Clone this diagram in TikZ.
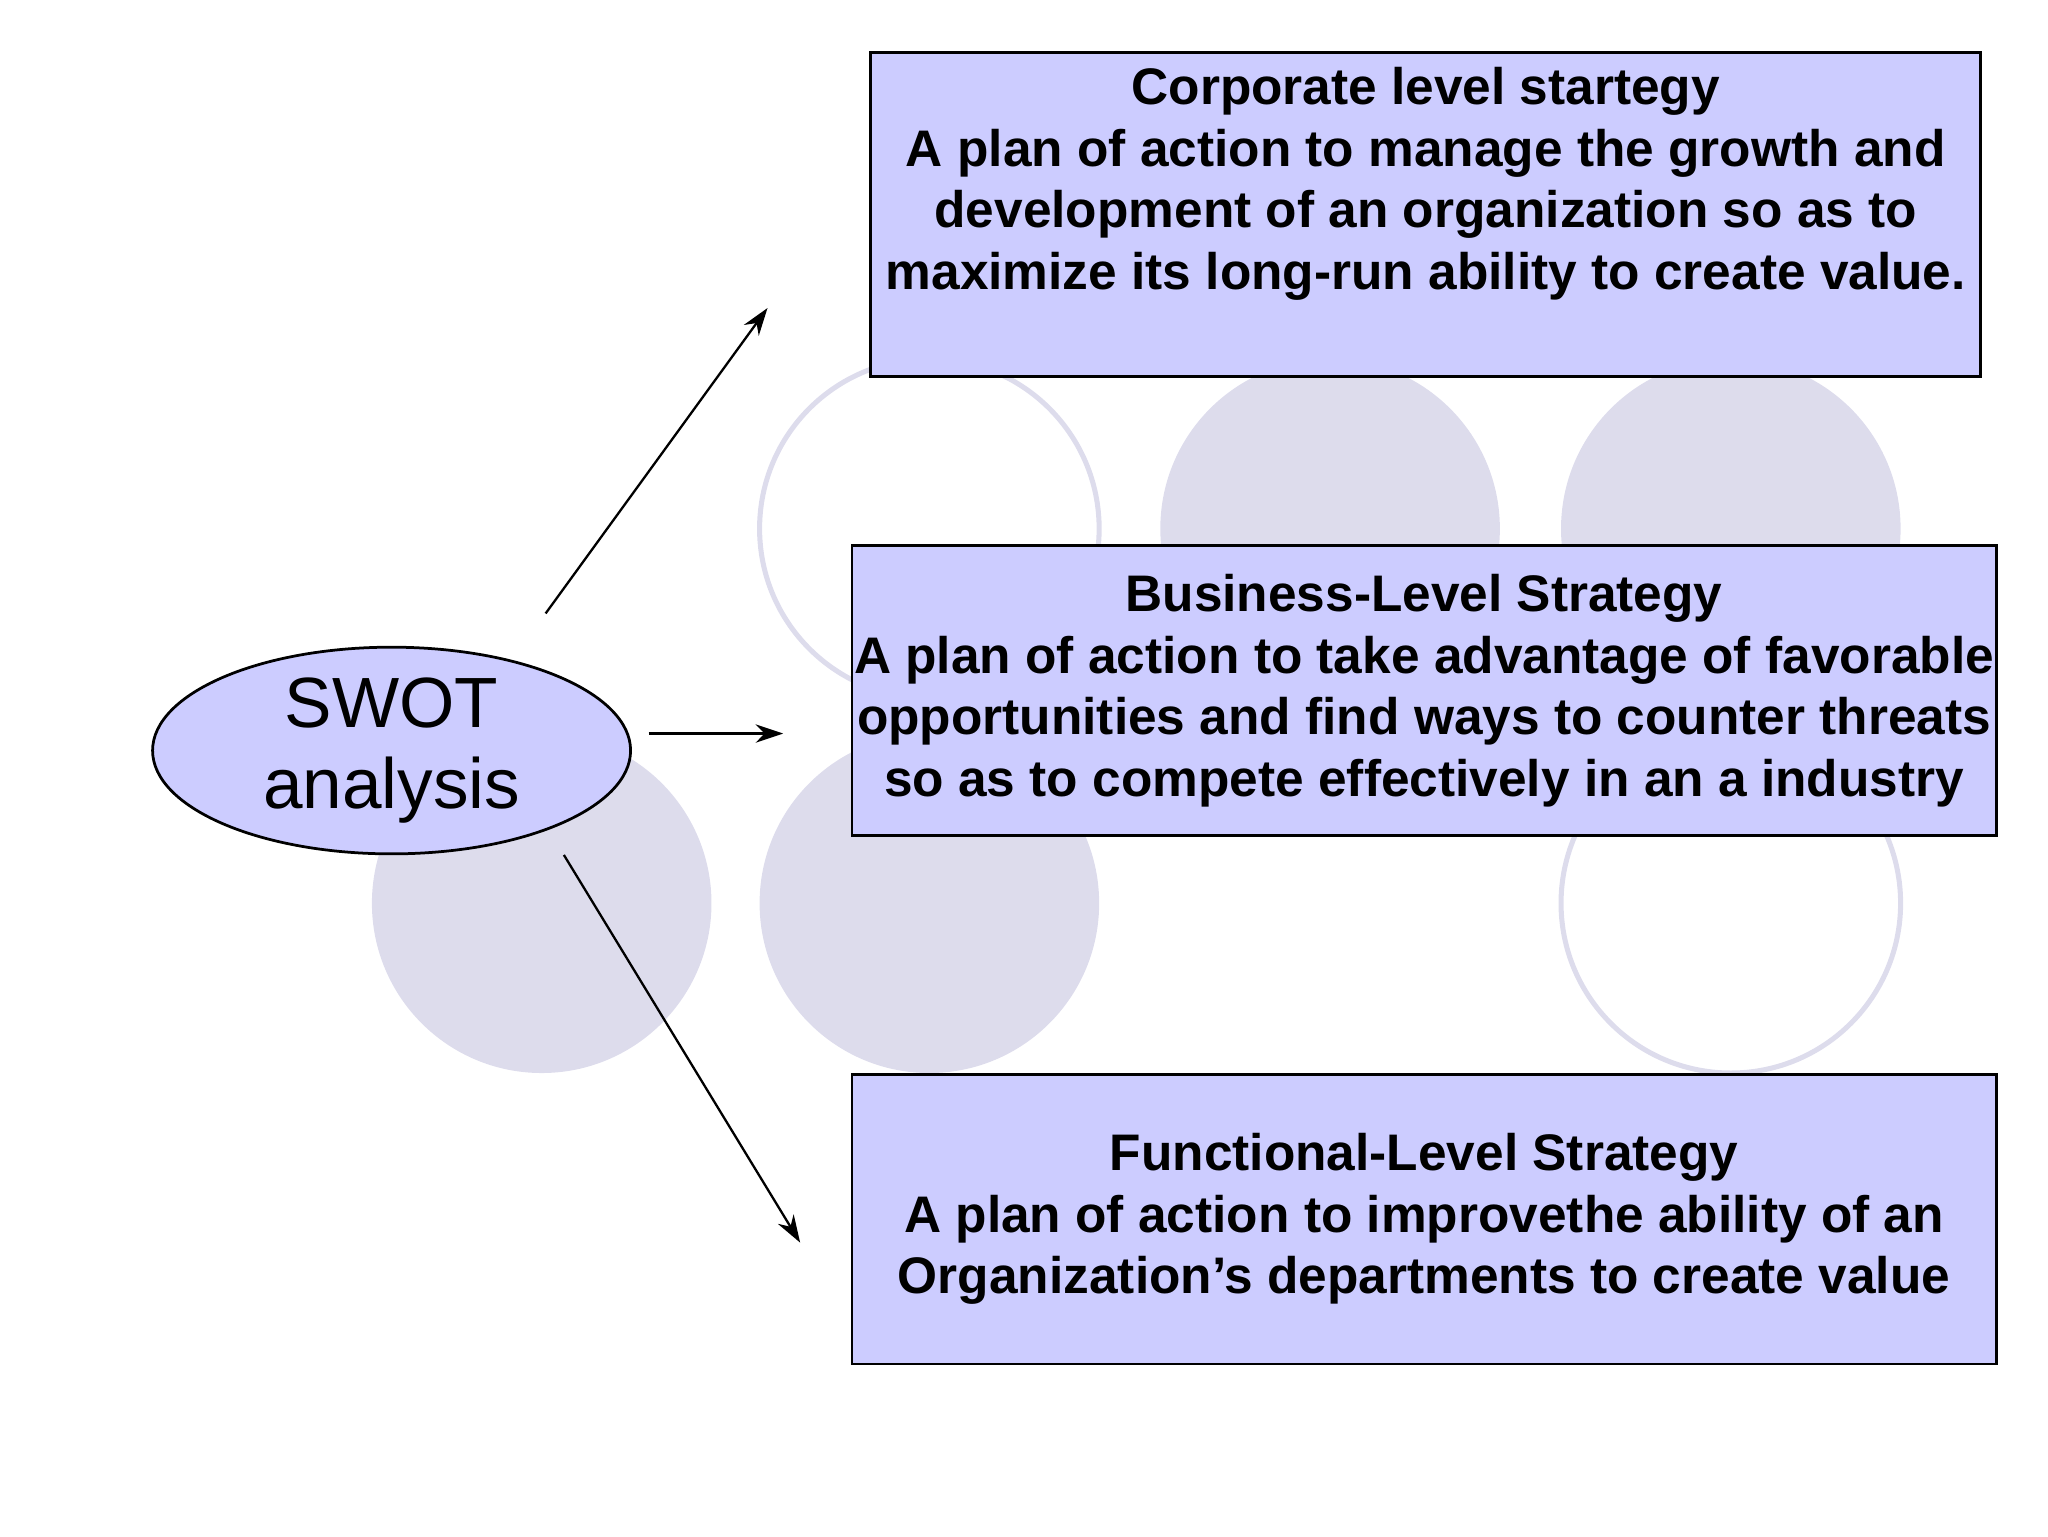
\documentclass[tikz,border=0pt]{standalone}
\usepackage{fontspec}
\setmainfont{Liberation Sans}
\usetikzlibrary{shapes.geometric,arrows.meta}
\definecolor{boxfill}{HTML}{CCCCFF}
\definecolor{circfill}{HTML}{DDDCEC}
\tikzset{
 box/.style={draw=black,fill=boxfill,line width=0.6pt,align=center,inner xsep=0pt,font=\bfseries\fontsize{11.2pt}{13.4pt}\selectfont},
 fcirc/.style={circle,fill=circfill,minimum size=2.6cm,inner sep=0},
 ocirc/.style={circle,draw=circfill,line width=1.1pt,minimum size=2.6cm,inner sep=0},
 arr/.style={-{Stealth[length=6pt,width=4pt]},line width=0.5pt}
}
\begin{document}
\begin{tikzpicture}[x=0.01cm,y=-0.01cm]
\useasboundingbox (0,0) rectangle (1569,1177);
\node[ocirc] (c1) at (712,405) {};
\node[fcirc] (c2) at (1019,405) {};
\node[fcirc] (c3) at (1326,405) {};
\node[fcirc] (c4) at (415,692) {};
\node[fcirc] (c5) at (712,692) {};
\node[ocirc] (c6) at (1326,692) {};
\node[box,minimum width=8.5cm,minimum height=2.35cm,anchor=north west,text depth=0.55cm] (b1) at (666,39) {Corporate level startegy\\A plan of action to manage the growth and\\development of an organization so as to\\maximize its long-run ability to create value.};
\node[box,minimum width=8.76cm,minimum height=2.22cm] (b2) at (1091,529) {Business-Level Strategy\\A plan of action to take advantage of favorable\\opportunities and find ways to counter threats\\so as to compete effectively in an a industry};
\node[box,minimum width=8.76cm,minimum height=2.22cm] (b3) at (1091,934) {Functional-Level Strategy\\A plan of action to improvethe ability of an\\Organization’s departments to create value};
\node[ellipse,draw=black,fill=boxfill,line width=0.6pt,minimum width=3.66cm,minimum height=1.56cm,align=center,inner sep=0,font=\fontsize{15.5pt}{17.8pt}\selectfont] (sw) at (300,575) {SWOT\\analysis};
\coordinate (a1s) at (418,470); \coordinate (a1e) at (588,236);
\coordinate (a2s) at (497,562); \coordinate (a2e) at (600,562);
\coordinate (a3s) at (432,655); \coordinate (a3e) at (613,952);
\draw[arr] (a1s) -- (a1e);
\draw[arr] (a2s) -- (a2e);
\draw[arr] (a3s) -- (a3e);
\end{tikzpicture}
\end{document}
